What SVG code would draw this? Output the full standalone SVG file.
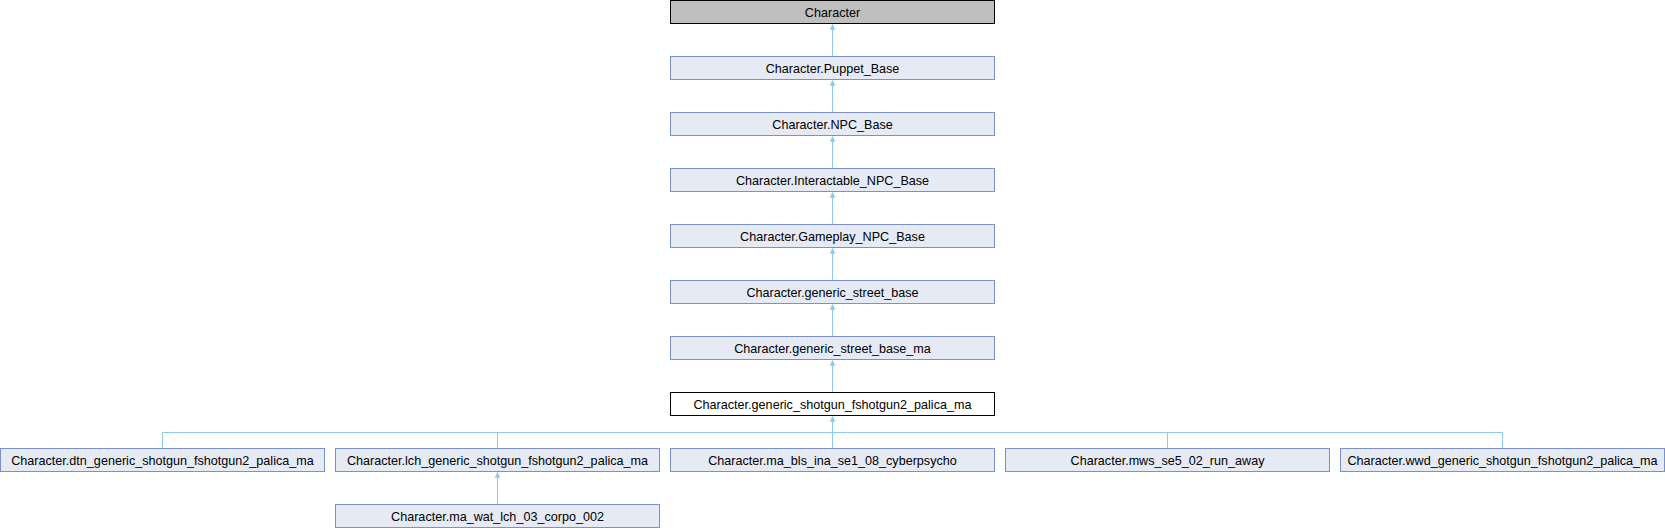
<svg xmlns="http://www.w3.org/2000/svg" width="1665" height="528" viewBox="0 0 1665 528">
<style>
.n rect{fill:#e6eaf4;stroke:#7b91cb;stroke-width:1}
.root rect{fill:#bfbfbf;stroke:#000}
.cur rect{fill:#fff;stroke:#000}
text{font-family:"Liberation Sans",Arial,sans-serif;font-size:12.6px;fill:#000;text-anchor:middle}
.e{stroke:#8ecaeb;stroke-width:1;fill:none}
</style>
<defs>
<marker id="ah" markerWidth="6" markerHeight="6" refX="5" refY="3" orient="auto" markerUnits="userSpaceOnUse">
<path d="M0,0.5 L5,3 L0,5.5 Z" fill="#8ecaeb" stroke="#8ecaeb" stroke-width="0.5"/>
</marker>
</defs>
<rect width="1665" height="528" fill="#fff"/>
<g id="connectors">
<path class="e" d="M832.5,56.5 V24.5" marker-end="url(#ah)"/>
<path class="e" d="M832.5,112.5 V80.5" marker-end="url(#ah)"/>
<path class="e" d="M832.5,168.5 V136.5" marker-end="url(#ah)"/>
<path class="e" d="M832.5,224.5 V192.5" marker-end="url(#ah)"/>
<path class="e" d="M832.5,280.5 V248.5" marker-end="url(#ah)"/>
<path class="e" d="M832.5,336.5 V304.5" marker-end="url(#ah)"/>
<path class="e" d="M832.5,392.5 V360.5" marker-end="url(#ah)"/>
<path class="e" d="M832.5,448.5 V416.5" marker-end="url(#ah)"/>
<path class="e" d="M162.5,448.5 V432.5 H1502.5 V448.5"/>
<path class="e" d="M497.5,448.5 V432.5"/>
<path class="e" d="M1167.5,448.5 V432.5"/>
<path class="e" d="M497.5,504.5 V472.5" marker-end="url(#ah)"/>
</g>
<g id="node_character" class="n root"><rect x="670.5" y="0.5" width="324" height="23"/><text x="832.5" y="16.5">Character</text></g>
<g id="node_puppet_base" class="n"><rect x="670.5" y="56.5" width="324" height="23"/><text x="832.5" y="72.5">Character.Puppet_Base</text></g>
<g id="node_npc_base" class="n"><rect x="670.5" y="112.5" width="324" height="23"/><text x="832.5" y="128.5">Character.NPC_Base</text></g>
<g id="node_interactable_npc_base" class="n"><rect x="670.5" y="168.5" width="324" height="23"/><text x="832.5" y="184.5">Character.Interactable_NPC_Base</text></g>
<g id="node_gameplay_npc_base" class="n"><rect x="670.5" y="224.5" width="324" height="23"/><text x="832.5" y="240.5">Character.Gameplay_NPC_Base</text></g>
<g id="node_generic_street_base" class="n"><rect x="670.5" y="280.5" width="324" height="23"/><text x="832.5" y="296.5">Character.generic_street_base</text></g>
<g id="node_generic_street_base_ma" class="n"><rect x="670.5" y="336.5" width="324" height="23"/><text x="832.5" y="352.5">Character.generic_street_base_ma</text></g>
<g id="node_generic_shotgun" class="n cur"><rect x="670.5" y="392.5" width="324" height="23"/><text x="832.5" y="408.5">Character.generic_shotgun_fshotgun2_palica_ma</text></g>
<g id="node_dtn" class="n"><rect x="0.5" y="448.5" width="324" height="23"/><text x="162.5" y="464.5">Character.dtn_generic_shotgun_fshotgun2_palica_ma</text></g>
<g id="node_lch" class="n"><rect x="335.5" y="448.5" width="324" height="23"/><text x="497.5" y="464.5">Character.lch_generic_shotgun_fshotgun2_palica_ma</text></g>
<g id="node_ma_bls" class="n"><rect x="670.5" y="448.5" width="324" height="23"/><text x="832.5" y="464.5">Character.ma_bls_ina_se1_08_cyberpsycho</text></g>
<g id="node_mws" class="n"><rect x="1005.5" y="448.5" width="324" height="23"/><text x="1167.5" y="464.5">Character.mws_se5_02_run_away</text></g>
<g id="node_wwd" class="n"><rect x="1340.5" y="448.5" width="324" height="23"/><text x="1502.5" y="464.5">Character.wwd_generic_shotgun_fshotgun2_palica_ma</text></g>
<g id="node_ma_wat" class="n"><rect x="335.5" y="504.5" width="324" height="23"/><text x="497.5" y="520.5">Character.ma_wat_lch_03_corpo_002</text></g>
</svg>
